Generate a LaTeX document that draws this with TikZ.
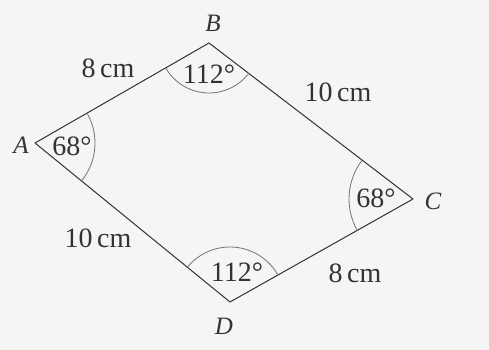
\documentclass[tikz,border=0pt]{standalone}
\usepackage{fontspec}
\setmainfont{Liberation Serif}
\begin{document}
\begin{tikzpicture}[x=1pt,y=-1pt,
  side/.style={draw=black!80,line width=1pt},
  anglearc/.style={draw=black!55,line width=0.8pt},
  lbl/.style={text=black!80,font=\fontsize{28}{32}\selectfont,inner sep=0pt},
  vlbl/.style={text=black!80,font=\fontsize{25}{30}\selectfont\itshape,inner sep=0pt}]
\fill[black!4] (0,0) rectangle (489,350);
\useasboundingbox (0,0) rectangle (489,350);
\coordinate (A) at (35,143);
\coordinate (B) at (209,43);
\coordinate (C) at (413,199);
\coordinate (D) at (230,302);
\draw[side,line join=round] (A) -- (B) -- (C) -- (D) -- cycle;
\draw[anglearc] ([shift={(-29.9:60)}]A) arc[start angle=-29.9,end angle=39.2,radius=60];
\draw[anglearc] ([shift={(37.4:50)}]B) arc[start angle=37.4,end angle=150.1,radius=50];
\draw[anglearc] ([shift={(150.6:64)}]C) arc[start angle=150.6,end angle=217.4,radius=64];
\draw[anglearc] ([shift={(219.2:55)}]D) arc[start angle=219.2,end angle=330.6,radius=55];
\node[vlbl] (lA) at (21,145) {A};
\node[vlbl] (lB) at (213,23) {B};
\node[vlbl] (lC) at (433,201) {C};
\node[vlbl] (lD) at (224,326) {D};
\node[lbl] (sAB) at (108,68) {8\,cm};
\node[lbl] (sBC) at (338,92) {10\,cm};
\node[lbl] (sAD) at (98,238) {10\,cm};
\node[lbl] (sCD) at (355,273) {8\,cm};
\node[lbl] (aA) at (72,146) {68°};
\node[lbl] (aB) at (209,74) {112°};
\node[lbl] (aC) at (376,198) {68°};
\node[lbl] (aD) at (237,272) {112°};
\end{tikzpicture}
\end{document}
